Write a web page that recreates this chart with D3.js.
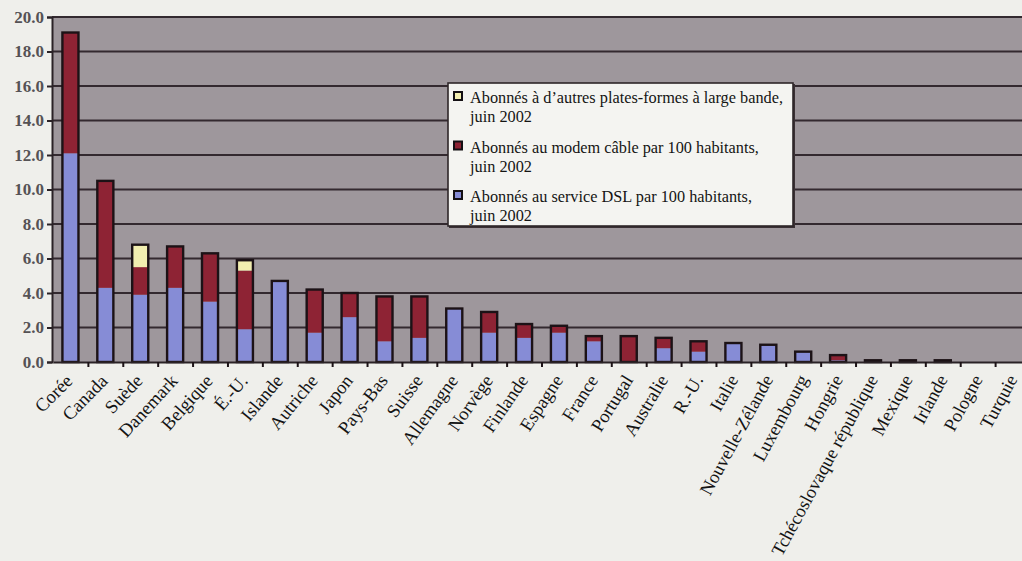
<!DOCTYPE html>
<html>
<head>
<meta charset="utf-8">
<script src="https://cdn.jsdelivr.net/npm/d3@7"></script>
<style>
  html, body { margin: 0; padding: 0; background: #efefeb; }
  svg { display: block; }
</style>
</head>
<body>
<svg id="chart" width="1022" height="561"></svg>
<script>
// Broadband subscribers per 100 inhabitants, June 2002
const countries = ["Corée","Canada","Suède","Danemark","Belgique","É.-U.","Islande","Autriche","Japon","Pays-Bas","Suisse","Allemagne","Norvège","Finlande","Espagne","France","Portugal","Australie","R.-U.","Italie","Nouvelle-Zélande","Luxembourg","Hongrie","Tchécoslovaque république","Mexique","Irlande","Pologne","Turquie"];
const dsl   = [12.1, 4.3, 3.9, 4.3, 3.5, 1.9, 4.7, 1.7, 2.6, 1.2, 1.4, 3.1, 1.7, 1.4, 1.7, 1.2, 0.0, 0.8, 0.6, 1.1, 1.0, 0.6, 0.1, 0.0, 0.0, 0.1, 0.0, 0.0];
const cable = [ 7.0, 6.2, 1.6, 2.4, 2.8, 3.4, 0.0, 2.5, 1.4, 2.6, 2.4, 0.0, 1.2, 0.8, 0.4, 0.3, 1.5, 0.6, 0.6, 0.0, 0.0, 0.0, 0.3, 0.1, 0.1, 0.0, 0.0, 0.0];
const other = [ 0.0, 0.0, 1.3, 0.0, 0.0, 0.6, 0.0, 0.0, 0.0, 0.0, 0.0, 0.0, 0.0, 0.0, 0.0, 0.0, 0.0, 0.0, 0.0, 0.0, 0.0, 0.0, 0.0, 0.0, 0.0, 0.0, 0.0, 0.0];
const yTicks = [0, 2, 4, 6, 8, 10, 12, 14, 16, 18, 20];
const seriesKeys = ["dsl", "cable", "other"];
const legendLabels = {
  other: ["Abonnés à d\u2019autres plates-formes à large bande,", "juin 2002"],
  cable: ["Abonnés au modem câble par 100 habitants,", "juin 2002"],
  dsl:   ["Abonnés au service DSL par 100 habitants,", "juin 2002"]
};
const legendOrder = ["other", "cable", "dsl"];

const SERIF = "Liberation Serif, Times New Roman, Tinos, DejaVu Serif, serif";
const colors = { dsl: "#868cd6", cable: "#8e2334", other: "#f2eeb0" };

const rows = countries.map((c, i) => ({ country: c, dsl: dsl[i], cable: cable[i], other: other[i] }));

const svg = d3.select("#chart");
const plot = { left: 52, top: 17, right: 1030, bottom: 362 };

const x = d3.scaleBand()
  .domain(countries)
  .range([plot.left + 1, plot.right])
  .paddingInner(0.54)
  .paddingOuter(0.27);

const y = d3.scaleLinear().domain([0, 20]).range([plot.bottom, plot.top]);

// plot background
svg.append("rect")
  .attr("x", plot.left).attr("y", plot.top)
  .attr("width", plot.right - plot.left).attr("height", plot.bottom - plot.top)
  .attr("fill", "#9e979c");

// horizontal gridlines
svg.append("g").selectAll("line")
  .data(yTicks.filter(d => d > 0))
  .join("line")
  .attr("x1", plot.left).attr("x2", plot.right)
  .attr("y1", d => y(d)).attr("y2", d => y(d))
  .attr("stroke", "#33292f").attr("stroke-width", 2);

// stacked bars
const stacked = d3.stack().keys(seriesKeys)(rows);
const gBars = svg.append("g");
stacked.forEach(layer => {
  gBars.append("g")
    .attr("fill", colors[layer.key])
    .selectAll("rect")
    .data(layer.filter(d => d[1] - d[0] > 0))
    .join("rect")
    .attr("x", d => x(d.data.country))
    .attr("width", x.bandwidth())
    .attr("y", d => y(d[1]))
    .attr("height", d => y(d[0]) - y(d[1]));
});
// bar outlines around each full stack
gBars.append("g").selectAll("rect")
  .data(rows.filter(r => r.dsl + r.cable + r.other > 0))
  .join("rect")
  .attr("x", d => x(d.country))
  .attr("width", x.bandwidth())
  .attr("y", d => y(d.dsl + d.cable + d.other))
  .attr("height", d => y(0) - y(d.dsl + d.cable + d.other))
  .attr("fill", "none")
  .attr("stroke", "#1c1216")
  .attr("stroke-width", 2.4);

// y axis
const yAxis = svg.append("g")
  .attr("transform", `translate(${plot.left},0)`)
  .call(d3.axisLeft(y).tickValues(yTicks).tickFormat(d3.format(".1f")).tickSize(5).tickPadding(3));
yAxis.select(".domain").attr("stroke", "#2a2226").attr("stroke-width", 2);
yAxis.selectAll(".tick line").attr("stroke", "#2a2226").attr("stroke-width", 2);
yAxis.selectAll("text")
  .style("font-family", SERIF)
  .style("font-weight", "bold")
  .style("font-size", "17px")
  .attr("fill", "#555255");

// x axis: ticks sit on category boundaries
const boundary = d3.scaleLinear().domain([0, countries.length]).range([plot.left + 1, plot.right]);
const xAxis = svg.append("g")
  .attr("transform", `translate(0,${plot.bottom})`)
  .call(d3.axisBottom(boundary).tickValues(d3.range(1, countries.length)).tickFormat("").tickSize(5).tickSizeOuter(0));
xAxis.select(".domain").attr("stroke", "#2a2226").attr("stroke-width", 2.2);
xAxis.selectAll(".tick line").attr("stroke", "#1c1216").attr("stroke-width", 2);

// rotated category labels
const rot = i => -(45 + 16.5 * Math.min(i, 20) / 20);
svg.append("g").selectAll("text")
  .data(countries)
  .join("text")
  .attr("transform", (d, i) => `translate(${x(d) + x.bandwidth() / 2 - 6},373) rotate(${rot(i)})`)
  .attr("text-anchor", "end")
  .attr("dy", "0.7em")
  .style("font-family", SERIF)
  .style("font-size", "18.5px")
  .attr("fill", "#141414")
  .text(d => d);

// legend
const lg = svg.append("g");
lg.append("rect")
  .attr("x", 449).attr("y", 84).attr("width", 346).attr("height", 144)
  .attr("fill", "#3a3034");
lg.append("rect")
  .attr("x", 448).attr("y", 83).attr("width", 345).attr("height", 143)
  .attr("fill", "#f4f4f1").attr("stroke", "#2e2629").attr("stroke-width", 1.6);
legendOrder.forEach((k, i) => {
  const g = lg.append("g").attr("transform", `translate(0,${i * 49.5})`);
  g.append("rect")
    .attr("x", 454).attr("y", 92).attr("width", 8).attr("height", 8)
    .attr("fill", colors[k]).attr("stroke", "#141014").attr("stroke-width", 2);
  g.append("text")
    .attr("x", 470).attr("y", 103)
    .style("font-family", SERIF)
    .style("font-size", "16.3px")
    .attr("fill", "#141414")
    .selectAll("tspan")
    .data(legendLabels[k])
    .join("tspan")
    .attr("x", 470)
    .attr("dy", (d, j) => j === 0 ? 0 : 19)
    .text(d => d);
});
</script>
</body>
</html>
